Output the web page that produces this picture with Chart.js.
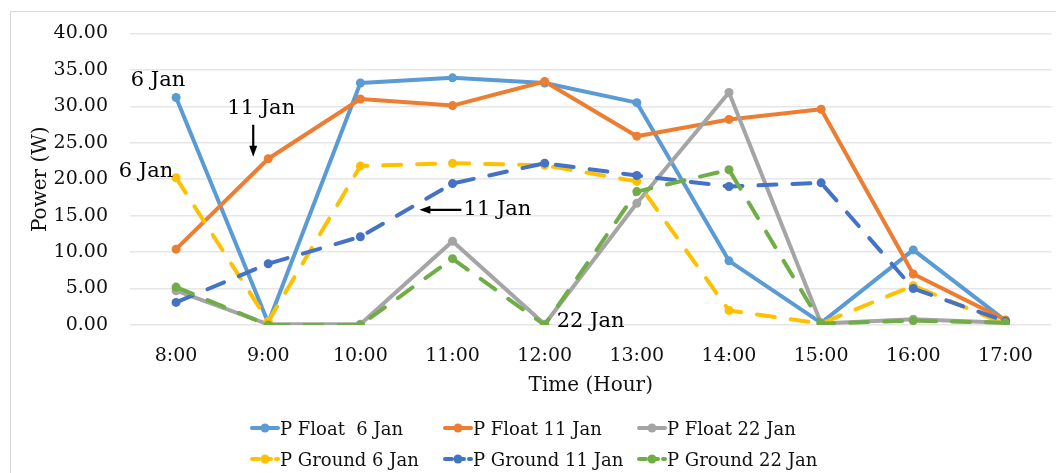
<!DOCTYPE html>
<html>
<head>
<meta charset="utf-8">
<script src="https://cdn.jsdelivr.net/npm/chart.js@4.4.1/dist/chart.umd.min.js"></script>
<style>
  html, body { margin: 0; padding: 0; background: #fff; }
  #wrap { position: relative; width: 1056px; height: 473px; overflow: hidden; }
  #frame { position: absolute; left: 10px; top: 11px; width: 1100px; height: 500px; border: 1px solid #d9d9d9; box-sizing: border-box; }
  canvas { position: absolute; left: 0; top: 0; }
  #legend { position: absolute; left: 250px; top: 416px; display: grid; grid-template-columns: 193px 194px 200px; row-gap: 7px;
            font-family: "DejaVu Serif", serif; font-size: 18px; color: #111; }
  .item { display: flex; align-items: center; height: 24px; white-space: pre; }
  .item svg { flex: none; }
</style>
</head>
<body>
<div id="wrap">
  <div id="frame"></div>
  <canvas id="chart" width="1056" height="473"></canvas>
  <div id="legend"></div>
</div>
<script>
// categories
var hours = ["8:00", "9:00", "10:00", "11:00", "12:00", "13:00", "14:00", "15:00", "16:00", "17:00"];

// series values (W)
var floatJan6    = [31.2, 0.3, 33.2, 33.9, 33.2, 30.5, 8.8, 0.3, 10.3, 0.6];
var floatJan11   = [10.4, 22.8, 31.0, 30.1, 33.4, 25.9, 28.2, 29.6, 7.0, 0.7];
var floatJan22   = [4.7, 0.1, 0.1, 11.5, 0.1, 16.7, 31.9, 0.2, 0.8, 0.3];
var groundJan6   = [20.2, 0.5, 21.8, 22.2, 21.9, 19.7, 2.0, 0.2, 5.4, 0.1];
var groundJan11  = [3.1, 8.4, 12.1, 19.4, 22.2, 20.5, 19.0, 19.5, 5.0, 0.5];
var groundJan22  = [5.2, 0.0, 0.0, 9.1, 0.0, 18.3, 21.3, 0.2, 0.6, 0.3];

var seriesNames  = ["P Float  6 Jan", "P Float 11 Jan", "P Float 22 Jan", "P Ground 6 Jan", "P Ground 11 Jan", "P Ground 22 Jan"];
var seriesValues = [floatJan6, floatJan11, floatJan22, groundJan6, groundJan11, groundJan22];
var seriesColors = ["#5b9bd5", "#ed7d31", "#a5a5a5", "#ffc000", "#4472c4", "#70ad47"];
var seriesDashed = [false, false, false, true, true, true];

// y axis ticks
var yMin = 0, yMax = 40, yStep = 5;

var serif = "'DejaVu Serif', serif";
var dash = [18, 16];

var datasets = seriesNames.map(function (name, i) {
    return {
        label: name,
        data: seriesValues[i],
        borderColor: seriesColors[i],
        backgroundColor: seriesColors[i],
        borderWidth: 4,
        borderDash: seriesDashed[i] ? dash : [],
        borderCapStyle: "round",
        borderJoinStyle: "round",
        pointRadius: 4.5,
        pointBorderWidth: 0,
        pointBackgroundColor: seriesColors[i],
        tension: 0,
        order: seriesNames.length - i
    };
});

// text notes pointing at the curves
var notes = {
    id: "notes",
    afterDatasetsDraw: function (chart) {
        var ctx = chart.ctx, x = chart.scales.x, y = chart.scales.y;
        ctx.save();
        ctx.fillStyle = "#000";
        ctx.strokeStyle = "#000";
        ctx.font = "21px " + serif;
        ctx.textBaseline = "middle";
        ctx.textAlign = "center";
        ctx.fillText("6 Jan", x.getPixelForValue(0) - 18, y.getPixelForValue(floatJan6[0]) - 17);
        ctx.fillText("11 Jan", x.getPixelForValue(1) - 7, y.getPixelForValue(floatJan11[1]) - 50);
        ctx.fillText("6 Jan", x.getPixelForValue(0) - 30, y.getPixelForValue(groundJan6[0]) - 6);
        ctx.textAlign = "left";
        ctx.fillText("11 Jan", x.getPixelForValue(3) + 11, y.getPixelForValue(15.8));
        ctx.fillText("22 Jan", x.getPixelForValue(4) + 12, y.getPixelForValue(groundJan22[4]) - 3);

        // down arrow to P Float 11 Jan at 9:00
        var ax = x.getPixelForValue(1) - 15, ay = y.getPixelForValue(floatJan11[1]) - 2;
        ctx.lineWidth = 2.2;
        ctx.beginPath(); ctx.moveTo(ax, ay - 32); ctx.lineTo(ax, ay - 8); ctx.stroke();
        ctx.beginPath(); ctx.moveTo(ax - 4, ay - 11); ctx.lineTo(ax + 4, ay - 11); ctx.lineTo(ax, ay); ctx.closePath(); ctx.fill();

        // left arrow to P Ground 11 Jan
        var bx = x.getPixelForValue(2) + 59, by = y.getPixelForValue(15.8);
        ctx.beginPath(); ctx.moveTo(bx + 42, by); ctx.lineTo(bx + 8, by); ctx.stroke();
        ctx.beginPath(); ctx.moveTo(bx + 11, by - 4); ctx.lineTo(bx + 11, by + 4); ctx.lineTo(bx, by); ctx.closePath(); ctx.fill();
        ctx.restore();
    }
};

var chart = new Chart(document.getElementById("chart"), {
    type: "line",
    data: { labels: hours, datasets: datasets },
    options: {
        responsive: false,
        animation: false,
        layout: { padding: { left: 25, right: 0, top: 30, bottom: 71 } },
        plugins: { legend: { display: false }, tooltip: { enabled: false } },
        scales: {
            x: {
                offset: true,
                grid: { display: false, drawTicks: false },
                border: { display: false },
                ticks: { color: "#111", font: { family: serif, size: 19 }, padding: 20, maxRotation: 0 },
                title: { display: true, text: "Time (Hour)", color: "#111", font: { family: serif, size: 20 }, padding: 4 },
                afterFit: function (s) { s.height = 77; }
            },
            y: {
                min: yMin, max: yMax,
                grid: { color: "#e6e6e6", lineWidth: 1.5, drawTicks: false },
                border: { display: false },
                ticks: {
                    stepSize: yStep, color: "#111", padding: 22,
                    font: { family: serif, size: 19 },
                    callback: function (v) { return v.toFixed(2); }
                },
                title: { display: true, text: "Power (W)", color: "#111", font: { family: serif, size: 20 }, padding: 4 },
                afterFit: function (s) { s.width = 105; }
            }
        }
    },
    plugins: [notes]
});

// legend: two rows of three, like the original
var legend = document.getElementById("legend");
seriesNames.forEach(function (name, i) {
    var item = document.createElement("div");
    item.className = "item";
    var da = seriesDashed[i] ? ' stroke-dasharray="7 5"' : "";
    item.innerHTML = '<svg width="30" height="12"><line x1="2" y1="6" x2="28" y2="6" stroke="' + seriesColors[i] +
        '" stroke-width="4" stroke-linecap="round"' + da + '/><circle cx="15" cy="6" r="4.5" fill="' + seriesColors[i] + '"/></svg>' +
        '<span>' + name + '</span>';
    legend.appendChild(item);
});
</script>
</body>
</html>
